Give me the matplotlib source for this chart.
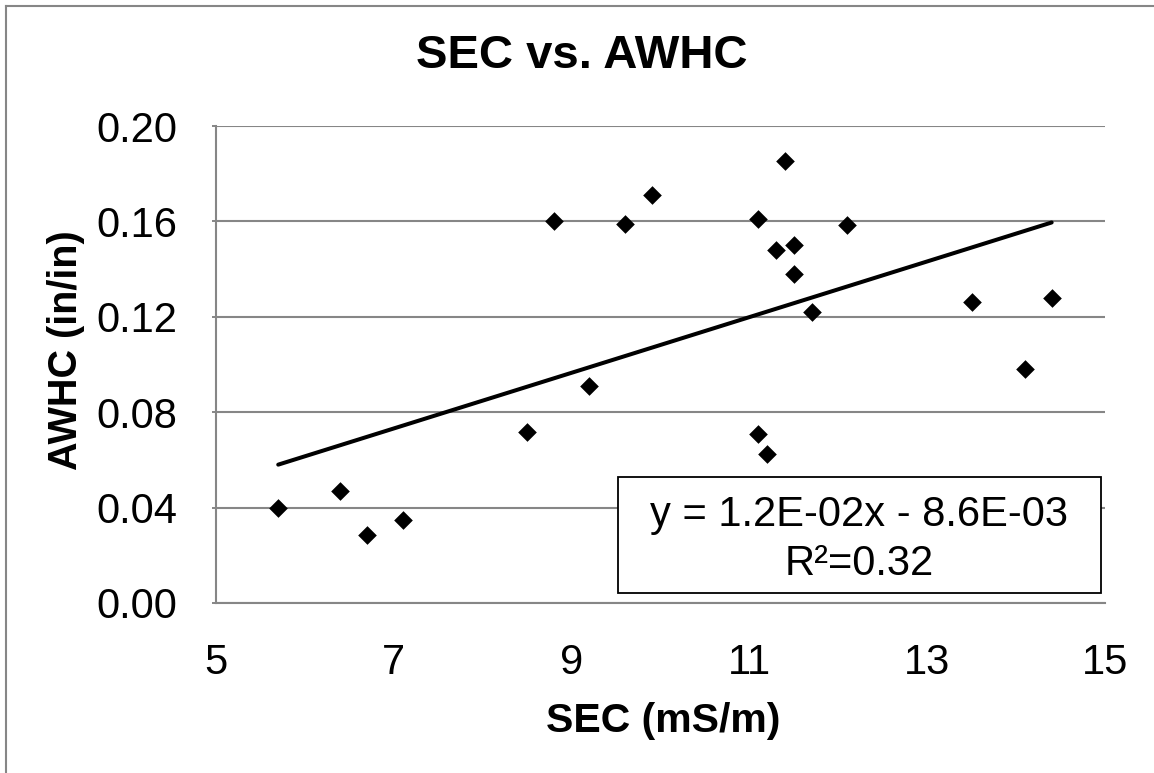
import numpy as np
import matplotlib
matplotlib.use("Agg")
import matplotlib.pyplot as plt
from matplotlib.lines import Line2D
from matplotlib.patches import Rectangle

plt.rcParams['font.family'] = ['Liberation Sans', 'DejaVu Sans']

# SEC (mS/m) and AWHC (in/in)
sec = [5.7, 6.4, 6.7, 7.1, 8.5, 8.8, 9.2, 9.6, 9.9, 11.1, 11.1, 11.2,
       11.3, 11.4, 11.5, 11.5, 11.7, 12.1, 13.5, 14.1, 14.4]
awhc = [0.040, 0.047, 0.0285, 0.035, 0.0715, 0.160, 0.091, 0.159, 0.171, 0.161, 0.071, 0.0625,
        0.148, 0.1855, 0.150, 0.138, 0.122, 0.1585, 0.126, 0.098, 0.128]
xticks = [5, 7, 9, 11, 13, 15]
yticks = [0.00, 0.04, 0.08, 0.12, 0.16, 0.20]
eq_text = "y = 1.2E-02x - 8.6E-03"
r2_text = "R\u00b2=0.32"

grid_col = '#868686'
W, H = 1154, 773

fig = plt.figure(figsize=(W / 100, H / 100), dpi=100)
ax = fig.add_axes([216 / W, 1 - 603 / H, 889 / W, 477 / H])

ax.scatter(sec, awhc, marker='D', s=9.5 ** 2, color='black', zorder=3, linewidths=0)

# linear trendline over data range
slope, intercept = np.polyfit(sec, awhc, 1)
xl = np.array([min(sec), max(sec)])
ax.plot(xl, slope * xl + intercept, color='black', lw=2.9, solid_capstyle='round', zorder=2)

ax.set_xlim(5, 15)
ax.set_ylim(0, 0.20)
ax.set_xticks(xticks)
ax.set_xticklabels([str(t) for t in xticks])
ax.set_yticks(yticks)
ax.set_yticklabels(["%.2f" % t for t in yticks])
ax.tick_params(axis='x', length=0, pad=29, labelsize=30)
ax.tick_params(axis='y', length=3, width=1.4, color=grid_col, pad=25, labelsize=30)
ax.grid(axis='y', color=grid_col, lw=1.5)
ax.set_axisbelow(True)
for s in ['top', 'right']:
    ax.spines[s].set_visible(False)
for s in ['left', 'bottom']:
    ax.spines[s].set_color(grid_col)
    ax.spines[s].set_linewidth(1.5)

ax.set_xlabel("SEC (mS/m)", fontsize=29.5, fontweight='bold')
ax.xaxis.set_label_coords((663 - 216) / 889, (603 - 732) / 477)
ax.xaxis.label.set_verticalalignment('baseline')
ax.set_ylabel("AWHC (in/in)", fontsize=28.5, fontweight='bold')
ax.yaxis.set_label_coords((66 - 216) / 889, (603 - 350) / 477)
ax.yaxis.label.set_verticalalignment('center')

fig.text(582 / W, 1 - 67.5 / H, "SEC vs. AWHC", fontsize=34, fontweight='bold',
         ha='center', va='baseline')

# equation box
ax.add_patch(Rectangle((0.452, 0.021), 0.5435, 0.243, transform=ax.transAxes,
                       facecolor='white', edgecolor='black', lw=1.3, zorder=4))
ax.text(0.7238, (603 - 526) / 477, eq_text, transform=ax.transAxes, fontsize=30,
        ha='center', va='baseline', zorder=5)
ax.text(0.7238, (603 - 575) / 477, r2_text, transform=ax.transAxes, fontsize=30,
        ha='center', va='baseline', zorder=5)

# outer chart border (left and top visible)
fig.add_artist(Line2D([6 / W, 6 / W], [0, 1 - 6 / H], transform=fig.transFigure,
                      color=grid_col, lw=1.5))
fig.add_artist(Line2D([6 / W, 1], [1 - 6 / H, 1 - 6 / H], transform=fig.transFigure,
                      color=grid_col, lw=1.5))

fig.savefig("out.png", dpi=100)
